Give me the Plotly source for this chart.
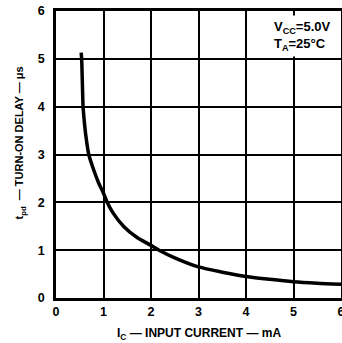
import plotly.graph_objects as go

# Data
ic_ma = [0.53, 0.54, 0.555, 0.57, 0.595, 0.625, 0.69, 0.80, 0.90, 1.00, 1.07, 1.20, 1.43, 1.70,
         2.00, 2.17, 2.50, 3.00, 3.50, 4.00, 4.50, 5.00, 5.50, 6.00]
tpd_us = [5.13, 5.00, 4.50, 4.00, 3.70, 3.42, 3.00, 2.66, 2.40, 2.19, 2.02, 1.78, 1.49, 1.27,
          1.10, 1.00, 0.84, 0.65, 0.54, 0.45, 0.39, 0.34, 0.31, 0.29]
x_ticks = [0, 1, 2, 3, 4, 5, 6]
y_ticks = [0, 1, 2, 3, 4, 5, 6]

FONT = "Liberation Sans, Arial, sans-serif"

fig = go.Figure()
fig.add_trace(go.Scatter(
    x=ic_ma, y=tpd_us, mode="lines",
    line=dict(color="black", width=3.5, shape="spline", smoothing=0.7),
    hoverinfo="skip", showlegend=False, cliponaxis=False,
))

fig.update_layout(
    width=342, height=343,
    margin=dict(l=56, r=1, t=11, b=45),
    paper_bgcolor="white", plot_bgcolor="white",
    font=dict(family=FONT, color="black"),
    xaxis=dict(
        range=[0, 6], tickvals=x_ticks, ticktext=[str(v) for v in x_ticks],
        showgrid=True, gridcolor="black", gridwidth=1.6,
        zeroline=False, showline=True, linecolor="black", linewidth=2.5, mirror=True,
        ticks="", tickfont=dict(size=12.5, family=FONT, weight="bold"),
        ticklabeloverflow="allow",
        automargin=False, fixedrange=True,
    ),
    yaxis=dict(
        range=[0, 6], tickvals=y_ticks, ticktext=[str(v) for v in y_ticks],
        showgrid=True, gridcolor="black", gridwidth=1.6,
        zeroline=False, showline=True, linecolor="black", linewidth=2.5, mirror=True,
        ticks="", tickfont=dict(size=12.5, family=FONT, weight="bold"),
        ticklabelstandoff=6,
        automargin=False, fixedrange=True,
    ),
    annotations=[
        dict(
            text="V<sub>CC</sub>=5.0V<br>T<sub>A</sub>=25°C",
            xref="paper", yref="paper", x=0.975, y=0.985,
            xanchor="right", yanchor="top", align="left", showarrow=False,
            bgcolor="white", borderpad=3,
            font=dict(size=13, family=FONT, weight="bold"),
        ),
        dict(
            text="t<sub>pd</sub>  — TURN-ON DELAY — μs",
            xref="paper", yref="paper", x=-0.125, y=0.54,
            xanchor="center", yanchor="middle", textangle=-90, showarrow=False,
            font=dict(size=11, family=FONT, weight="bold"),
        ),
        dict(
            text="I<sub>C</sub> — INPUT CURRENT — mA",
            xref="paper", yref="paper", x=0.5, y=-0.125,
            xanchor="center", yanchor="middle", showarrow=False,
            font=dict(size=12, family=FONT, weight="bold"),
        ),
    ],
)

fig.write_html("out.html")
